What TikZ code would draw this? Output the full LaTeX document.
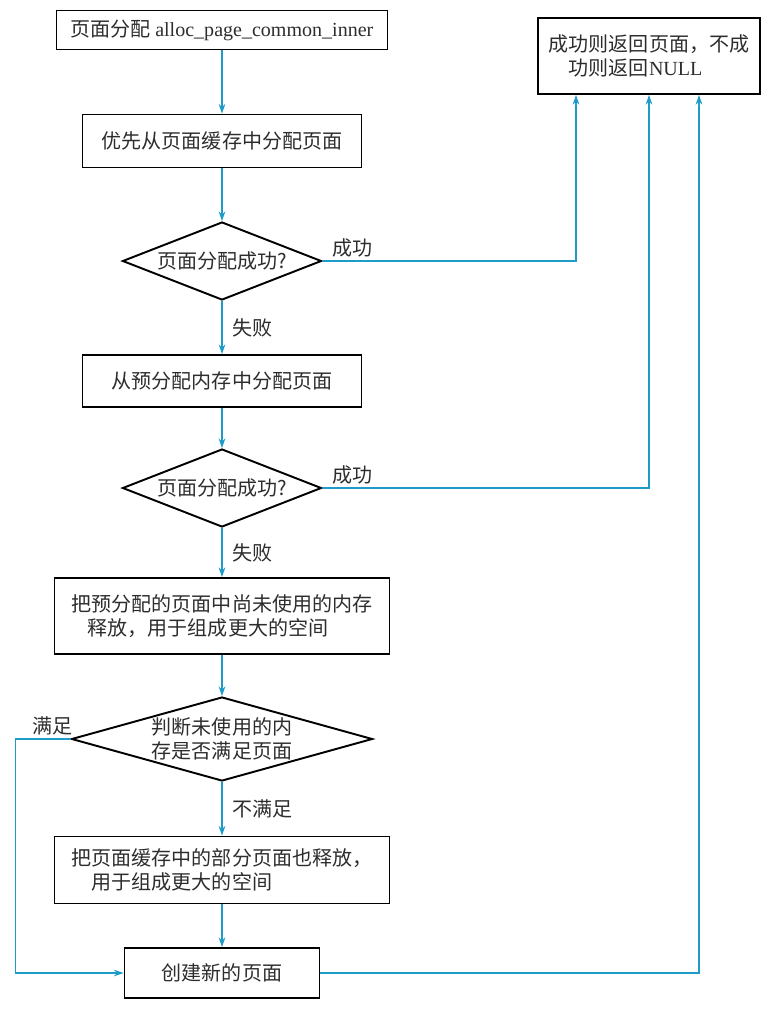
\documentclass[tikz,border=0pt]{standalone}
\usepackage{fontspec}
\setmainfont{Liberation Serif}
\newfontfamily\cjk{Noto Sans CJK SC}
\usepackage{xcolor}
\usetikzlibrary{shapes.geometric,arrows.meta}
\definecolor{flowline}{RGB}{30,155,200}
\definecolor{flowtext}{RGB}{45,45,45}

\begin{document}
\begin{tikzpicture}[node distance=2.4cm, font=\cjk\fontsize{11.4pt}{13.8pt}\selectfont, text=flowtext,
    proc/.style={rectangle, draw=black, line width=1.1pt, inner sep=2pt},
    decide/.style={diamond, draw=black, line width=1.1pt, inner sep=0pt, minimum width=3.98cm, minimum height=1.56cm, aspect=2.55, align=center},
    flow/.style={-{Stealth[length=5.5pt,width=3.8pt]}, draw=flowline, line width=0.7pt},
    lbl/.style={text=flowtext, inner sep=2pt}]
    \useasboundingbox (0,0) rectangle (15.44,-20.22);

    % Nodes
    \node (start) [proc, minimum width=6.62cm, minimum height=0.78cm] at (4.44,-0.60) {页面分配 {\rmfamily alloc\_page\_common\_inner}};
    \node (result) [proc, right of=start, xshift=6.14cm, yshift=-0.52cm, minimum width=4.44cm, minimum height=1.52cm, align=left] {成功则返回页面，不成\\\hspace{1em}功则返回{\rmfamily NULL}};

    \node (cache) [proc, below of=start, yshift=0.18cm, minimum width=5.58cm, minimum height=1.06cm] {优先从页面缓存中分配页面};
    \node (dec1) [decide, below of=cache] {页面分配成功?};
    \node (prealloc) [proc, below of=dec1, minimum width=5.58cm, minimum height=1.04cm] {从预分配内存中分配页面};
    \node (dec2) [decide, below of=prealloc, yshift=0.26cm] {页面分配成功?};
    \node (release) [proc, below of=dec2, yshift=-0.16cm, minimum width=6.70cm, minimum height=1.52cm, align=left] {把预分配的页面中尚未使用的内存\\\hspace{0.8em}释放，用于组成更大的空间};
    \node (dec3) [decide, below of=release, yshift=-0.06cm, minimum width=6.02cm, minimum height=1.68cm, aspect=3.58] {判断未使用的内\\存是否满足页面};
    \node (partial) [proc, below of=dec3, yshift=-0.22cm, minimum width=6.70cm, minimum height=1.34cm, align=left] {把页面缓存中的部分页面也释放，\\\hspace{1em}用于组成更大的空间};
    \node (create) [proc, below of=partial, yshift=0.34cm, minimum width=3.90cm, minimum height=1.00cm] {创建新的页面};

    % Connections
    \draw [flow] (start) -- (cache);
    \draw [flow] (cache) -- (dec1);
    \draw [flow] (dec1) -- node[lbl, right, xshift=0.12cm] {失败} (prealloc);
    \draw [flow] (prealloc) -- (dec2);
    \draw [flow] (dec2) -- node[lbl, right, xshift=0.12cm] {失败} (release);
    \draw [flow] (release) -- (dec3);
    \draw [flow] (dec3) -- node[lbl, right, xshift=0.12cm] {不满足} (partial);
    \draw [flow] (partial) -- (create);

    \draw [flow] (dec1.east) node[lbl, anchor=south west, xshift=0.12cm] {成功} -| ([xshift=-1.46cm]result.south);
    \draw [flow] (dec2.east) node[lbl, anchor=south west, xshift=0.12cm] {成功} -| (result.south);
    \draw [flow] (create.east) -| ([xshift=1.0cm]result.south);
    \draw [flow] (dec3.west) node[lbl, anchor=south east, xshift=0.12cm] {满足} -- ++(-1.1,0) |- (create.west);
\end{tikzpicture}
\end{document}
